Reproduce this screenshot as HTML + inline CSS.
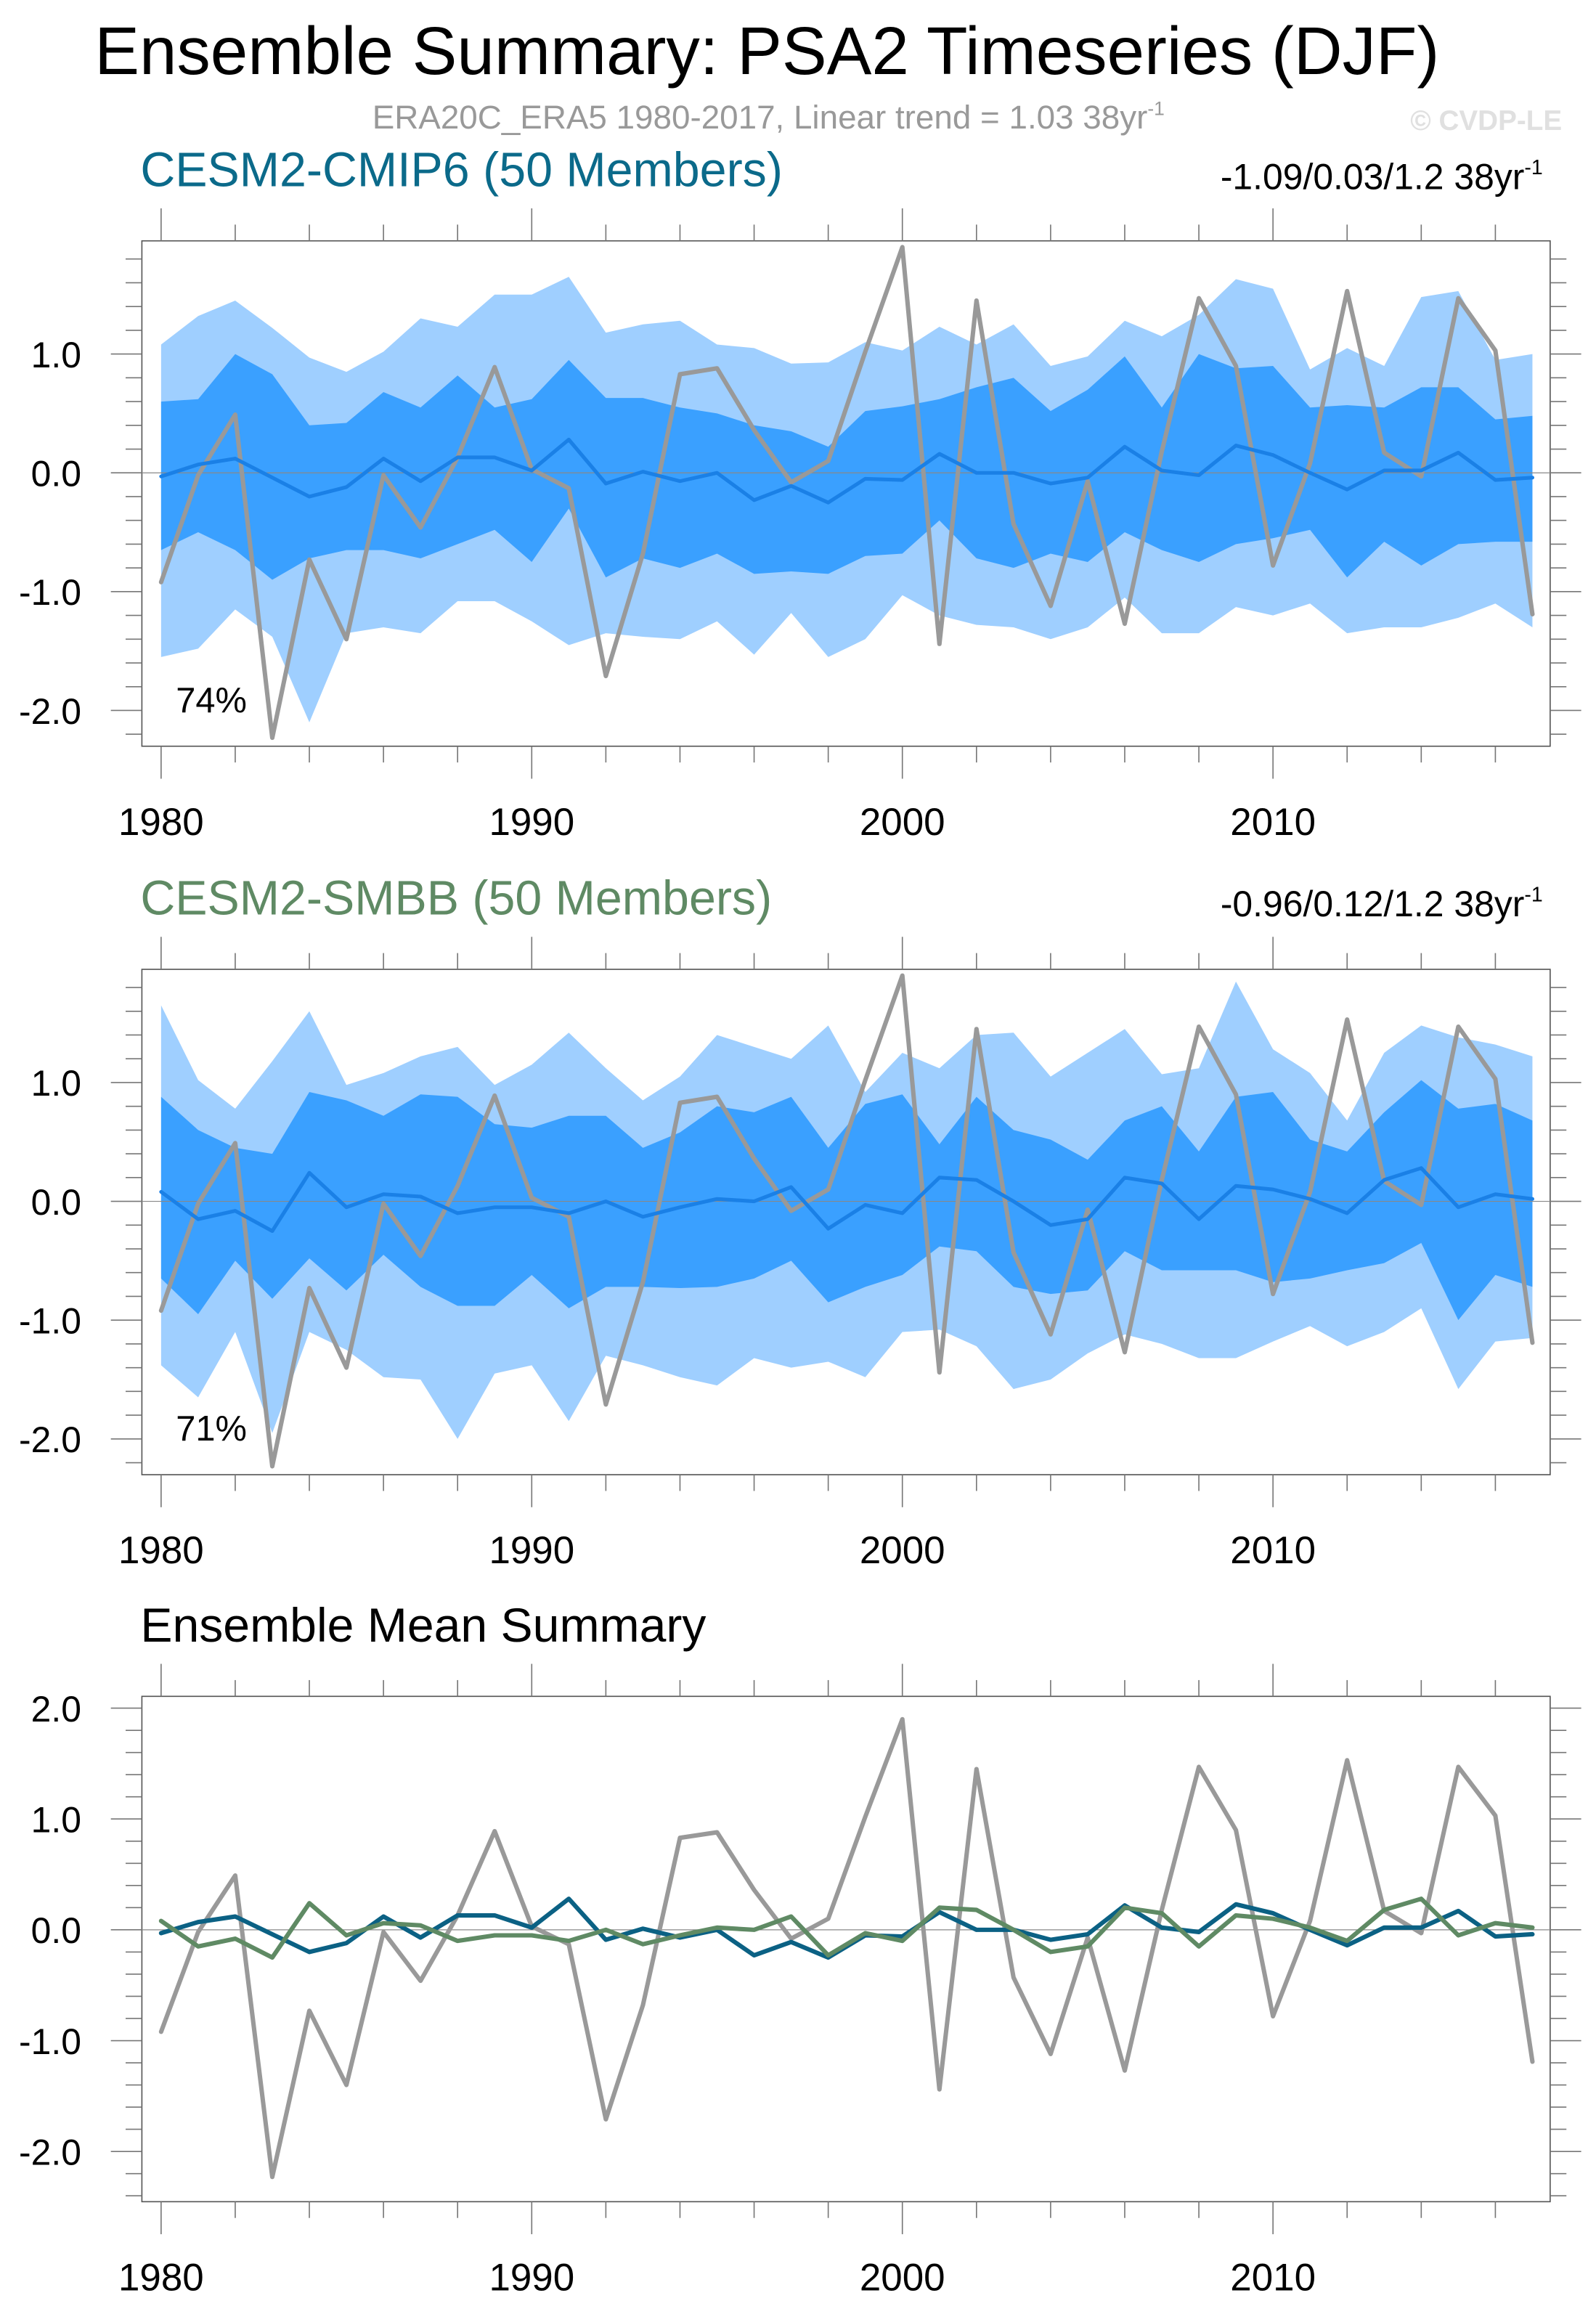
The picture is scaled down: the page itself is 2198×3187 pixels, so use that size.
<!DOCTYPE html>
<html><head><meta charset="utf-8"><style>
html,body{margin:0;padding:0;background:#fff;}
svg{display:block;}
text{font-family:"Liberation Sans",sans-serif;}
</style></head><body>
<svg id="chart" width="2198" height="3187" viewBox="0 0 1080 1566" xmlns="http://www.w3.org/2000/svg">
<text x="64" y="50" font-size="45.5">Ensemble Summary: PSA2 Timeseries (DJF)</text>
<text x="520" y="87" font-size="22.5" fill="#999" text-anchor="middle">ERA20C_ERA5 1980-2017, Linear trend = 1.03 38yr<tspan dy="-9" font-size="13">-1</tspan></text>
<text x="1057" y="88" font-size="19" font-weight="bold" fill="#e0e0e0" text-anchor="end">© CVDP-LE</text>
<g id="p1"></g>
<g id="p2"></g>
<g id="p3"></g>
</svg>
<script>
const years = [];
for (let y = 1980; y <= 2017; y++) years.push(y);
const obs = [-0.92,-0.02,0.49,-2.23,-0.73,-1.40,-0.02,-0.46,0.13,0.89,0.03,-0.13,-1.71,-0.68,0.83,0.88,0.36,-0.08,0.10,1.02,1.90,-1.44,1.45,-0.43,-1.12,-0.07,-1.27,0.18,1.47,0.90,-0.78,0.08,1.53,0.17,-0.03,1.47,1.03,-1.19];
const cmipMean = [-0.03,0.07,0.12,-0.04,-0.20,-0.12,0.12,-0.07,0.13,0.13,0.02,0.28,-0.09,0.01,-0.07,0.00,-0.23,-0.11,-0.25,-0.05,-0.06,0.16,0.00,0.00,-0.09,-0.04,0.22,0.02,-0.02,0.23,0.15,0.00,-0.14,0.02,0.02,0.17,-0.06,-0.04];
const cmipDarkHi = [0.60,0.62,1.00,0.83,0.40,0.42,0.68,0.55,0.82,0.55,0.62,0.95,0.63,0.63,0.55,0.50,0.40,0.35,0.22,0.52,0.56,0.62,0.72,0.80,0.52,0.70,0.98,0.55,1.00,0.88,0.90,0.55,0.57,0.55,0.72,0.72,0.45,0.48];
const cmipDarkLo = [-0.65,-0.50,-0.65,-0.90,-0.72,-0.65,-0.65,-0.72,-0.60,-0.48,-0.75,-0.30,-0.88,-0.72,-0.80,-0.68,-0.85,-0.83,-0.85,-0.70,-0.68,-0.40,-0.72,-0.80,-0.68,-0.75,-0.50,-0.65,-0.75,-0.60,-0.55,-0.48,-0.88,-0.58,-0.78,-0.60,-0.58,-0.58];
const cmipLightHi = [1.08,1.32,1.45,1.22,0.97,0.85,1.02,1.30,1.23,1.50,1.50,1.65,1.18,1.25,1.28,1.08,1.05,0.92,0.93,1.10,1.03,1.23,1.08,1.25,0.90,0.98,1.28,1.15,1.33,1.63,1.55,0.87,1.05,0.90,1.48,1.53,0.95,1.00];
const cmipLightLo = [-1.55,-1.48,-1.15,-1.38,-2.10,-1.35,-1.30,-1.35,-1.08,-1.08,-1.25,-1.45,-1.35,-1.38,-1.40,-1.25,-1.53,-1.18,-1.55,-1.40,-1.03,-1.20,-1.28,-1.30,-1.40,-1.30,-1.05,-1.35,-1.35,-1.13,-1.20,-1.10,-1.35,-1.30,-1.30,-1.22,-1.10,-1.30];
const smbbMean = [0.08,-0.15,-0.08,-0.25,0.24,-0.05,0.06,0.04,-0.10,-0.05,-0.05,-0.10,0.00,-0.13,-0.05,0.02,0.00,0.12,-0.23,-0.03,-0.10,0.20,0.18,0.00,-0.20,-0.15,0.20,0.15,-0.15,0.13,0.10,0.02,-0.10,0.18,0.28,-0.05,0.06,0.02];
const smbbDarkHi = [0.88,0.60,0.45,0.40,0.92,0.85,0.72,0.90,0.88,0.65,0.62,0.72,0.72,0.45,0.58,0.80,0.75,0.88,0.45,0.82,0.90,0.48,0.88,0.60,0.52,0.35,0.68,0.80,0.42,0.88,0.92,0.52,0.42,0.75,1.02,0.78,0.82,0.68];
const smbbDarkLo = [-0.65,-0.95,-0.50,-0.82,-0.48,-0.75,-0.45,-0.72,-0.88,-0.88,-0.62,-0.90,-0.72,-0.72,-0.73,-0.72,-0.65,-0.50,-0.85,-0.72,-0.62,-0.38,-0.42,-0.72,-0.78,-0.75,-0.42,-0.58,-0.58,-0.58,-0.68,-0.65,-0.58,-0.52,-0.35,-1.00,-0.62,-0.72];
const smbbLightHi = [1.65,1.02,0.78,1.18,1.60,0.98,1.08,1.22,1.30,0.98,1.15,1.42,1.12,0.85,1.05,1.40,1.30,1.20,1.48,0.92,1.25,1.12,1.40,1.42,1.05,1.25,1.45,1.07,1.12,1.85,1.28,1.08,0.68,1.25,1.48,1.38,1.32,1.22];
const smbbLightLo = [-1.38,-1.65,-1.10,-1.95,-1.10,-1.25,-1.48,-1.50,-2.00,-1.45,-1.38,-1.85,-1.30,-1.38,-1.48,-1.55,-1.32,-1.40,-1.35,-1.48,-1.10,-1.08,-1.22,-1.58,-1.50,-1.28,-1.12,-1.20,-1.32,-1.32,-1.18,-1.05,-1.22,-1.10,-0.90,-1.58,-1.18,-1.15];
const yTicks12 = [1.0,0.0,-1.0,-2.0];
const yTicks3 = [2.0,1.0,0.0,-1.0,-2.0];
const xTickLabels = [1980,1990,2000,2010];

const NS = "http://www.w3.org/2000/svg";
function mk(parent, tag, attrs) {
  const e = document.createElementNS(NS, tag);
  for (const k in attrs) e.setAttribute(k, attrs[k]);
  parent.appendChild(e);
  return e;
}
const L = 96, R = 1049;
function xs(yr) { return 109 + (yr - 1980) * (1037 - 109) / 37; }

function panel(g, top, bottom, y0, ppu, yTicks, yMin, yMax) {
  const ys = v => y0 - v * ppu;
  const box = mk(g, 'rect', {x:L, y:top, width:R-L, height:bottom-top, fill:'none', stroke:'#555', 'stroke-width':0.8});
  
  
  for (let yr = 1980; yr <= 2017; yr += 2) {
    const major = (yr % 10 === 0);
    const len = major ? 22 : 11;
    const x = xs(yr);
    const t1 = mk(g, 'line', {x1:x, x2:x, y1:top, y2:top-len, stroke:'#777', 'stroke-width':0.8});
    
    
    const t2 = mk(g, 'line', {x1:x, x2:x, y1:bottom, y2:bottom+len, stroke:'#777', 'stroke-width':0.8});
    
    
  }
  for (let k = Math.ceil(yMin*5); k <= Math.floor(yMax*5); k++) {
    const v = k / 5;
    const major = (k % 5 === 0);
    const len = major ? 21 : 11;
    const y = ys(v);
    const a = mk(g, 'line', {x1:L, x2:L-len, y1:y, y2:y, stroke:'#777', 'stroke-width':0.8});
    
    
    const b = mk(g, 'line', {x1:R, x2:R+len, y1:y, y2:y, stroke:'#777', 'stroke-width':0.8});
    
    
  }
  yTicks.forEach(v => {
    const t = mk(g, 'text', {x:55, y:ys(v)+9, 'font-size':24.5, 'text-anchor':'end'});
    
    
    t.textContent = v.toFixed(1);
  });
  xTickLabels.forEach(yr => {
    const t = mk(g, 'text', {x:xs(yr), y:bottom+60, 'font-size':26, 'text-anchor':'middle'});
    
    
    t.textContent = yr;
  });
  return ys;
}
function band(g, hi, lo, ys, fill, name) {
  let d = '';
  years.forEach((yr,i) => { d += (i ? 'L' : 'M') + xs(yr).toFixed(2) + ',' + ys(hi[i]).toFixed(2); });
  for (let i = years.length-1; i >= 0; i--) d += 'L' + xs(years[i]).toFixed(2) + ',' + ys(lo[i]).toFixed(2);
  const p = mk(g, 'path', {d:d+'Z', fill:fill, stroke:'none'});
  
  
}
function line(g, vals, ys, color, w, name) {
  const pts = years.map((yr,i) => xs(yr).toFixed(2)+','+ys(vals[i]).toFixed(2)).join(' ');
  const p = mk(g, 'polyline', {points:pts, fill:'none', stroke:color, 'stroke-width':w, 'stroke-linejoin':'round', 'stroke-linecap':'round'});
  
  
}
function zero(g, ys) {
  const z = mk(g, 'line', {x1:L, x2:R, y1:ys(0), y2:ys(0), stroke:'#888', 'stroke-width':0.6});
  
  
}
function label(g, x, y, size, fill, anchor, txt, name, sup) {
  const t = mk(g, 'text', {x:x, y:y, 'font-size':size, fill:fill, 'text-anchor':anchor});
  
  
  t.textContent = txt;
  if (sup) { const s = mk(t, 'tspan', {dy:-10, 'font-size':14}); s.textContent = sup; }
}

const g1 = document.getElementById('p1');
const ys1 = panel(g1, 163, 505, 320, 80.4, yTicks12, -2.3, 1.95);
band(g1, cmipLightHi, cmipLightLo, ys1, '#9fcfff', 'cmip6-outer-band');
band(g1, cmipDarkHi, cmipDarkLo, ys1, '#3aa0ff', 'cmip6-inner-band');
zero(g1, ys1);
line(g1, obs, ys1, '#999', 3, 'observed-line');
line(g1, cmipMean, ys1, '#1a80e6', 2.5, 'cmip6-mean-line');
label(g1, 95, 126, 32.6, '#0b6a8a', 'start', 'CESM2-CMIP6 (50 Members)', 'cmip6-panel-title');
label(g1, 1044, 128, 24.5, '#000', 'end', '-1.09/0.03/1.2 38yr', 'cmip6-trend-label', '-1');
label(g1, 119, 482, 24, '#000', 'start', '74%', 'cmip6-percent-label');

const g2 = document.getElementById('p2');
const ys2 = panel(g2, 656, 998, 813, 80.4, yTicks12, -2.3, 1.95);
band(g2, smbbLightHi, smbbLightLo, ys2, '#9fcfff', 'smbb-outer-band');
band(g2, smbbDarkHi, smbbDarkLo, ys2, '#3aa0ff', 'smbb-inner-band');
zero(g2, ys2);
line(g2, obs, ys2, '#999', 3, 'observed-line');
line(g2, smbbMean, ys2, '#1a80e6', 2.5, 'smbb-mean-line');
label(g2, 95, 619, 32.6, '#5f8a64', 'start', 'CESM2-SMBB (50 Members)', 'smbb-panel-title');
label(g2, 1044, 620, 24.5, '#000', 'end', '-0.96/0.12/1.2 38yr', 'smbb-trend-label', '-1');
label(g2, 119, 975, 24, '#000', 'start', '71%', 'smbb-percent-label');

const g3 = document.getElementById('p3');
const ys3 = panel(g3, 1148, 1490, 1306, 75, yTicks3, -2.45, 2.1);
zero(g3, ys3);
line(g3, obs, ys3, '#999', 3, 'observed-line');
line(g3, cmipMean, ys3, '#0b6184', 3, 'cmip6-mean-line');
line(g3, smbbMean, ys3, '#5f8a64', 3, 'smbb-mean-line');
label(g3, 95, 1111, 32.5, '#000', 'start', 'Ensemble Mean Summary', 'mean-panel-title');
</script>
</body></html>
